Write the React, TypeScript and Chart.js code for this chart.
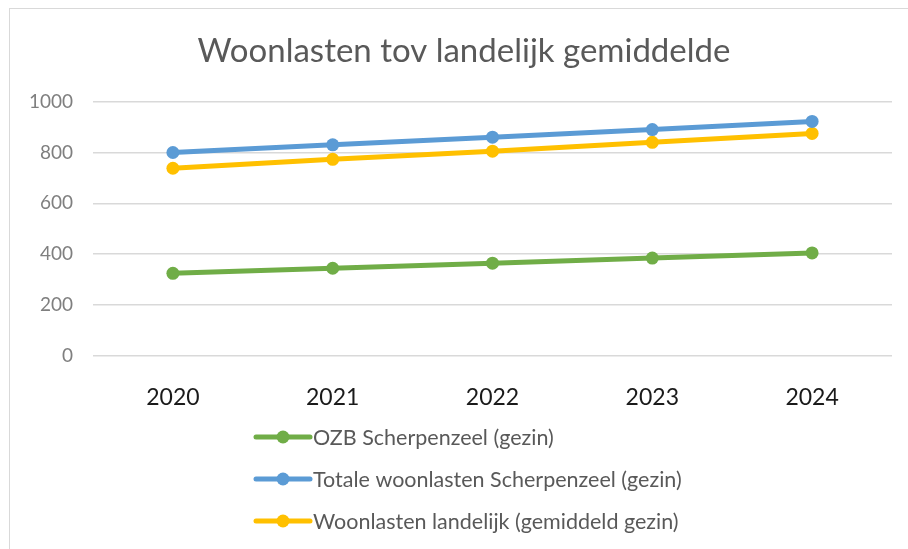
import React, { useEffect, useRef } from "react";
import { Chart, registerables } from "chart.js";

Chart.register(...registerables);

const years = ["2020", "2021", "2022", "2023", "2024"];
const ozbScherpenzeel = [325, 345, 365, 385, 405];
const totaleWoonlasten = [800, 830, 860, 890, 922];
const woonlastenLandelijk = [738, 773, 805, 840, 875];
const seriesNames = [
  "OZB Scherpenzeel (gezin)",
  "Totale woonlasten Scherpenzeel (gezin)",
  "Woonlasten landelijk (gemiddeld gezin)",
];
const seriesColors = ["#70AD47", "#5B9BD5", "#FFC000"];
const yTicks = [0, 200, 400, 600, 800, 1000];
const titleText = "Woonlasten tov landelijk gemiddelde";

const FONT = "Lato, 'Open Sans', sans-serif";

const shiftTitle = {
  id: "shiftTitle",
  afterLayout(chart: any) {
    const t = chart.titleBlock;
    if (t) {
      t.left += 18;
      t.right += 18;
    }
  },
};

const lineLegend = {
  id: "lineLegend",
  afterDraw(chart: any) {
    const ctx = chart.ctx;
    const x0 = 256;
    const x1 = 310;
    const rowStart = 437;
    const rowGap = 42;
    ctx.save();
    chart.data.datasets.forEach((ds: any, i: number) => {
      const y = rowStart + i * rowGap;
      ctx.strokeStyle = ds.borderColor;
      ctx.lineWidth = 5;
      ctx.lineCap = "round";
      ctx.beginPath();
      ctx.moveTo(x0, y);
      ctx.lineTo(x1, y);
      ctx.stroke();
      ctx.fillStyle = ds.borderColor;
      ctx.beginPath();
      ctx.arc((x0 + x1) / 2, y, 6.5, 0, Math.PI * 2);
      ctx.fill();
      ctx.fillStyle = "#595959";
      ctx.font = `21.5px ${FONT}`;
      ctx.textAlign = "left";
      ctx.textBaseline = "middle";
      ctx.fillText(ds.label, x1 + 3, y + 1);
    });
    ctx.restore();
  },
};

export default function App() {
  const ref = useRef<HTMLCanvasElement | null>(null);

  useEffect(() => {
    if (!ref.current) return;
    const seriesData = [ozbScherpenzeel, totaleWoonlasten, woonlastenLandelijk];
    const chart = new Chart(ref.current, {
      type: "line",
      data: {
        labels: years,
        datasets: seriesData.map((d, i) => ({
          label: seriesNames[i],
          data: d,
          borderColor: seriesColors[i],
          backgroundColor: seriesColors[i],
          borderWidth: 5,
          pointRadius: 6.5,
          pointHoverRadius: 6.5,
          pointBorderWidth: 0,
          tension: 0,
        })),
      },
      options: {
        animation: false,
        responsive: false,
        maintainAspectRatio: false,
        layout: { padding: { left: 0, right: 16, top: 0, bottom: 139 } },
        plugins: {
          legend: { display: false },
          tooltip: { enabled: false },
          title: {
            display: true,
            text: titleText,
            color: "#595959",
            font: { family: FONT, size: 33, weight: "normal" },
            padding: { top: 32, bottom: 30 },
          },
        },
        scales: {
          x: {
            offset: true,
            grid: { display: false, drawTicks: false },
            border: { display: false },
            ticks: {
              color: "#1a1a1a",
              font: { family: FONT, size: 23 },
              padding: 28,
              maxRotation: 0,
            },
            afterFit(scale: any) {
              scale.height = 54;
            },
          },
          y: {
            min: 0,
            max: 1000,
            afterBuildTicks(scale: any) {
              scale.ticks = yTicks.map((v) => ({ value: v }));
            },
            grid: { color: "#d9d9d9", lineWidth: 1.5, drawTicks: false },
            border: { display: false },
            ticks: {
              color: "#7f7f7f",
              font: { family: FONT, size: 19 },
              padding: 20,
              callback: (v: any) => String(v),
            },
            afterFit(scale: any) {
              scale.width = 93;
            },
          },
        },
      },
      plugins: [shiftTitle, lineLegend],
    });
    return () => chart.destroy();
  }, []);

  return (
    <div style={{ position: "fixed", left: 0, top: 0, width: 908, height: 549, background: "#fff" }}>
      <div
        style={{
          position: "absolute",
          left: 9,
          top: 8,
          right: -5,
          bottom: -5,
          borderLeft: "1.5px solid #d9d9d9",
          borderTop: "1.5px solid #d9d9d9",
        }}
      />
      <canvas ref={ref} width={908} height={549} style={{ position: "absolute", left: 0, top: 0 }} />
    </div>
  );
}
